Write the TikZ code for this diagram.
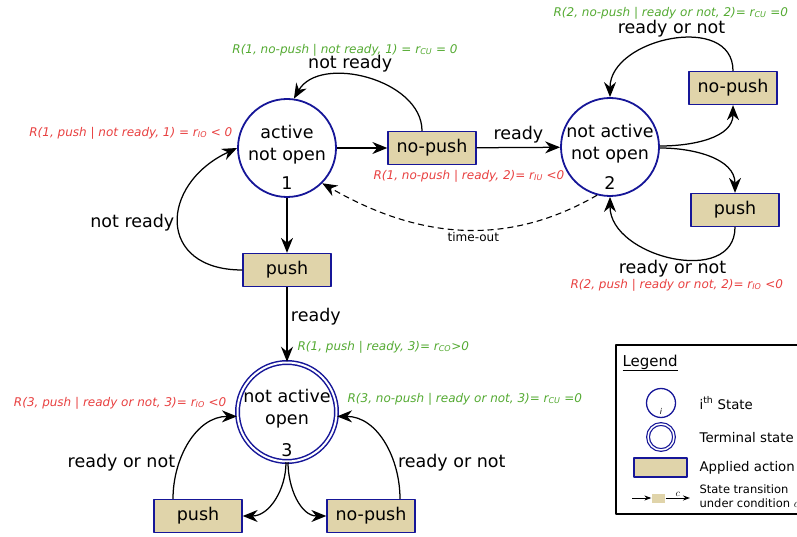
\documentclass[tikz,border=0pt]{standalone}
\usepackage{fontspec}
\setmainfont{DejaVu Sans}
\usetikzlibrary{arrows.meta,positioning}
\definecolor{stateblue}{RGB}{22,22,152}
\definecolor{actiontan}{RGB}{224,212,170}
\definecolor{rewardred}{RGB}{232,64,64}
\definecolor{rewardgreen}{RGB}{84,170,50}
\tikzset{
	state/.style={circle,draw=stateblue,line width=1.8pt,minimum size=98pt,inner sep=0pt},
	terminal/.style={circle,draw=stateblue,line width=1.5pt,double=white,double distance=2pt,minimum size=99pt,inner sep=0pt},
	action/.style={rectangle,draw=stateblue,fill=actiontan,line width=1.3pt,minimum width=88pt,minimum height=33pt,inner sep=0pt},
	reward/.style={font=\fontsize{12}{14}\selectfont\itshape,inner sep=0pt},
	lgtext/.style={anchor=west,inner sep=0pt,font=\fontsize{13.3}{16}\selectfont},
}
\begin{document}
\begin{tikzpicture}[>={Stealth[length=15pt,width=12pt]},line join=round,x=1pt,y=1pt,line width=1.25pt,font=\fontsize{17.5}{22}\selectfont]
	\useasboundingbox (0,0) rectangle (797,536);
	% states
	\node[state] (s1) at (287,388) {};
	\node[state] (s2) at (610,389) {};
	\node[terminal] (s3) at (287,124) {};
	\foreach \s/\t/\n/\d in {s1/active\\not open/1/35,s2/not active\\not open/2/36,s3/not active\\open/3/38}{
		\node[align=center] (\s-txt) at ([yshift=3]\s) {\t};
		\node (\s-num) at ([yshift=-\d]\s) {\n};
	}
	% actions
	\node[action] (nb1) at (432,388) {no-push};
	\node[action] (nb2) at (733,448) {no-push};
	\node[action] (pb2) at (735,326) {push};
	\node[action] (pb1) at (287,266) {push};
	\node[action] (pb3) at (198,20) {push};
	\node[action] (nb3) at (371,20) {no-push};
	% transitions
	\draw[->] (s1) -- (nb1);
	\draw[->] (nb1) -- node[above]{ready} (s2);
	\draw[->] ([xshift=-10]nb1.north) to[out=90,in=60] node[pos=0.6,above]{not ready} (s1.82);
	\draw[->] (s1) -- (pb1);
	\draw[->] (pb1.west) to[out=180,in=205,looseness=1.8] node[left]{not ready} (s1.west);
	\draw[->] (pb1) -- node[pos=0.4,right]{ready} (s3);
	\draw[->,dash pattern=on 6pt off 4pt,line width=1.1pt] (s2.255) to[out=210,in=-30] node[pos=0.45,below=-2pt,font=\fontsize{12}{14}\selectfont]{time-out} (s1.-45);
	\draw[->] ([yshift=1]s2.east) to[out=0,in=-90] (nb2.south);
	\draw[->] ([yshift=-1]s2.east) to[out=0,in=90] (pb2.north);
	\draw[->] (nb2.north) to[out=90,in=90,looseness=1.2] node[above=-1pt]{ready or not} (s2.north);
	\draw[->] (pb2.south) to[out=-90,in=-90,looseness=1.2] node[below=-1pt]{ready or not} (s2.south);
	\draw[->] ([xshift=-1]s3.south) to[out=-90,in=0] (pb3.east);
	\draw[->] ([xshift=1]s3.south) to[out=-90,in=180] (nb3.west);
	\draw[->] ([xshift=-25]pb3.north) to[out=90,in=180] node[pos=0.3,left]{ready or not} (s3.185);
	\draw[->] ([xshift=29]nb3.north) to[out=90,in=0] node[pos=0.3,right]{ready or not} (s3.-5);
	% rewards
	\node[reward,rewardgreen] (r1) at (345,486) {R(1, no-push | not ready, 1) = r\textsubscript{CU} = 0};
	\node[reward,rewardred,anchor=east] (r2) at (233,403) {R(1, push | not ready, 1) = r\textsubscript{IO} < 0};
	\node[reward,rewardred,anchor=west] (r3) at (373,360) {R(1, no-push | ready, 2)= r\textsubscript{IU} <0};
	\node[reward,rewardgreen,anchor=west] (r4) at (553,523) {R(2, no-push | ready or not, 2)= r\textsubscript{CU} =0};
	\node[reward,rewardred,anchor=west] (r5) at (570,251) {R(2, push | ready or not, 2)= r\textsubscript{IO} <0};
	\node[reward,rewardgreen,anchor=west] (r6) at (297,189) {R(1, push | ready, 3)= r\textsubscript{CO}>0};
	\node[reward,rewardred,anchor=east] (r7) at (227,133) {R(3, push | ready or not, 3)= r\textsubscript{IO} <0};
	\node[reward,rewardgreen,anchor=west] (r8) at (347,137) {R(3, no-push | ready or not, 3)= r\textsubscript{CU} =0};
	% legend
	\draw[line width=1.5pt] (616,22) rectangle (850,191);
	\node[anchor=west,inner sep=0pt,font=\fontsize{15}{18}\selectfont] (lgtitle) at (622,173) {\underline{Legend}};
	\node[state,line width=1.3pt,minimum size=29pt] (lgstate) at (661,133) {};
	\node[inner sep=0pt,font=\fontsize{8}{8}\selectfont\itshape] (lgi) at ([yshift=-8]lgstate) {i};
	\node[terminal,line width=1.2pt,double distance=1.5pt,minimum size=26pt] (lgterm) at (661,99) {};
	\node[action,minimum width=53pt,minimum height=19pt] (lgaction) at (660.5,68.5) {};
	\node[action,draw=none,minimum width=13pt,minimum height=9pt] (lgbox) at (658.5,38) {};
	\coordinate (lgin) at (632,38);
	\coordinate (lgout) at (690,38);
	\draw[-{Stealth[length=7pt,width=5pt]},line width=1pt] (lgin) -- (lgbox);
	\draw[-{Stealth[length=7pt,width=5pt]},line width=1pt] (lgbox) -- node[above,inner sep=1pt,font=\fontsize{10}{10}\selectfont]{$c$} (lgout);
	\node[lgtext] (lg1) at (699,133) {i\textsuperscript{th} State};
	\node[lgtext] (lg2) at (699,98) {Terminal state};
	\node[lgtext] (lg3) at (699,68) {Applied action};
	\node[lgtext,align=left,font=\fontsize{11.5}{14}\selectfont] (lg4) at (699,40) {State transition\\under condition $c$};
\end{tikzpicture}
\end{document}
